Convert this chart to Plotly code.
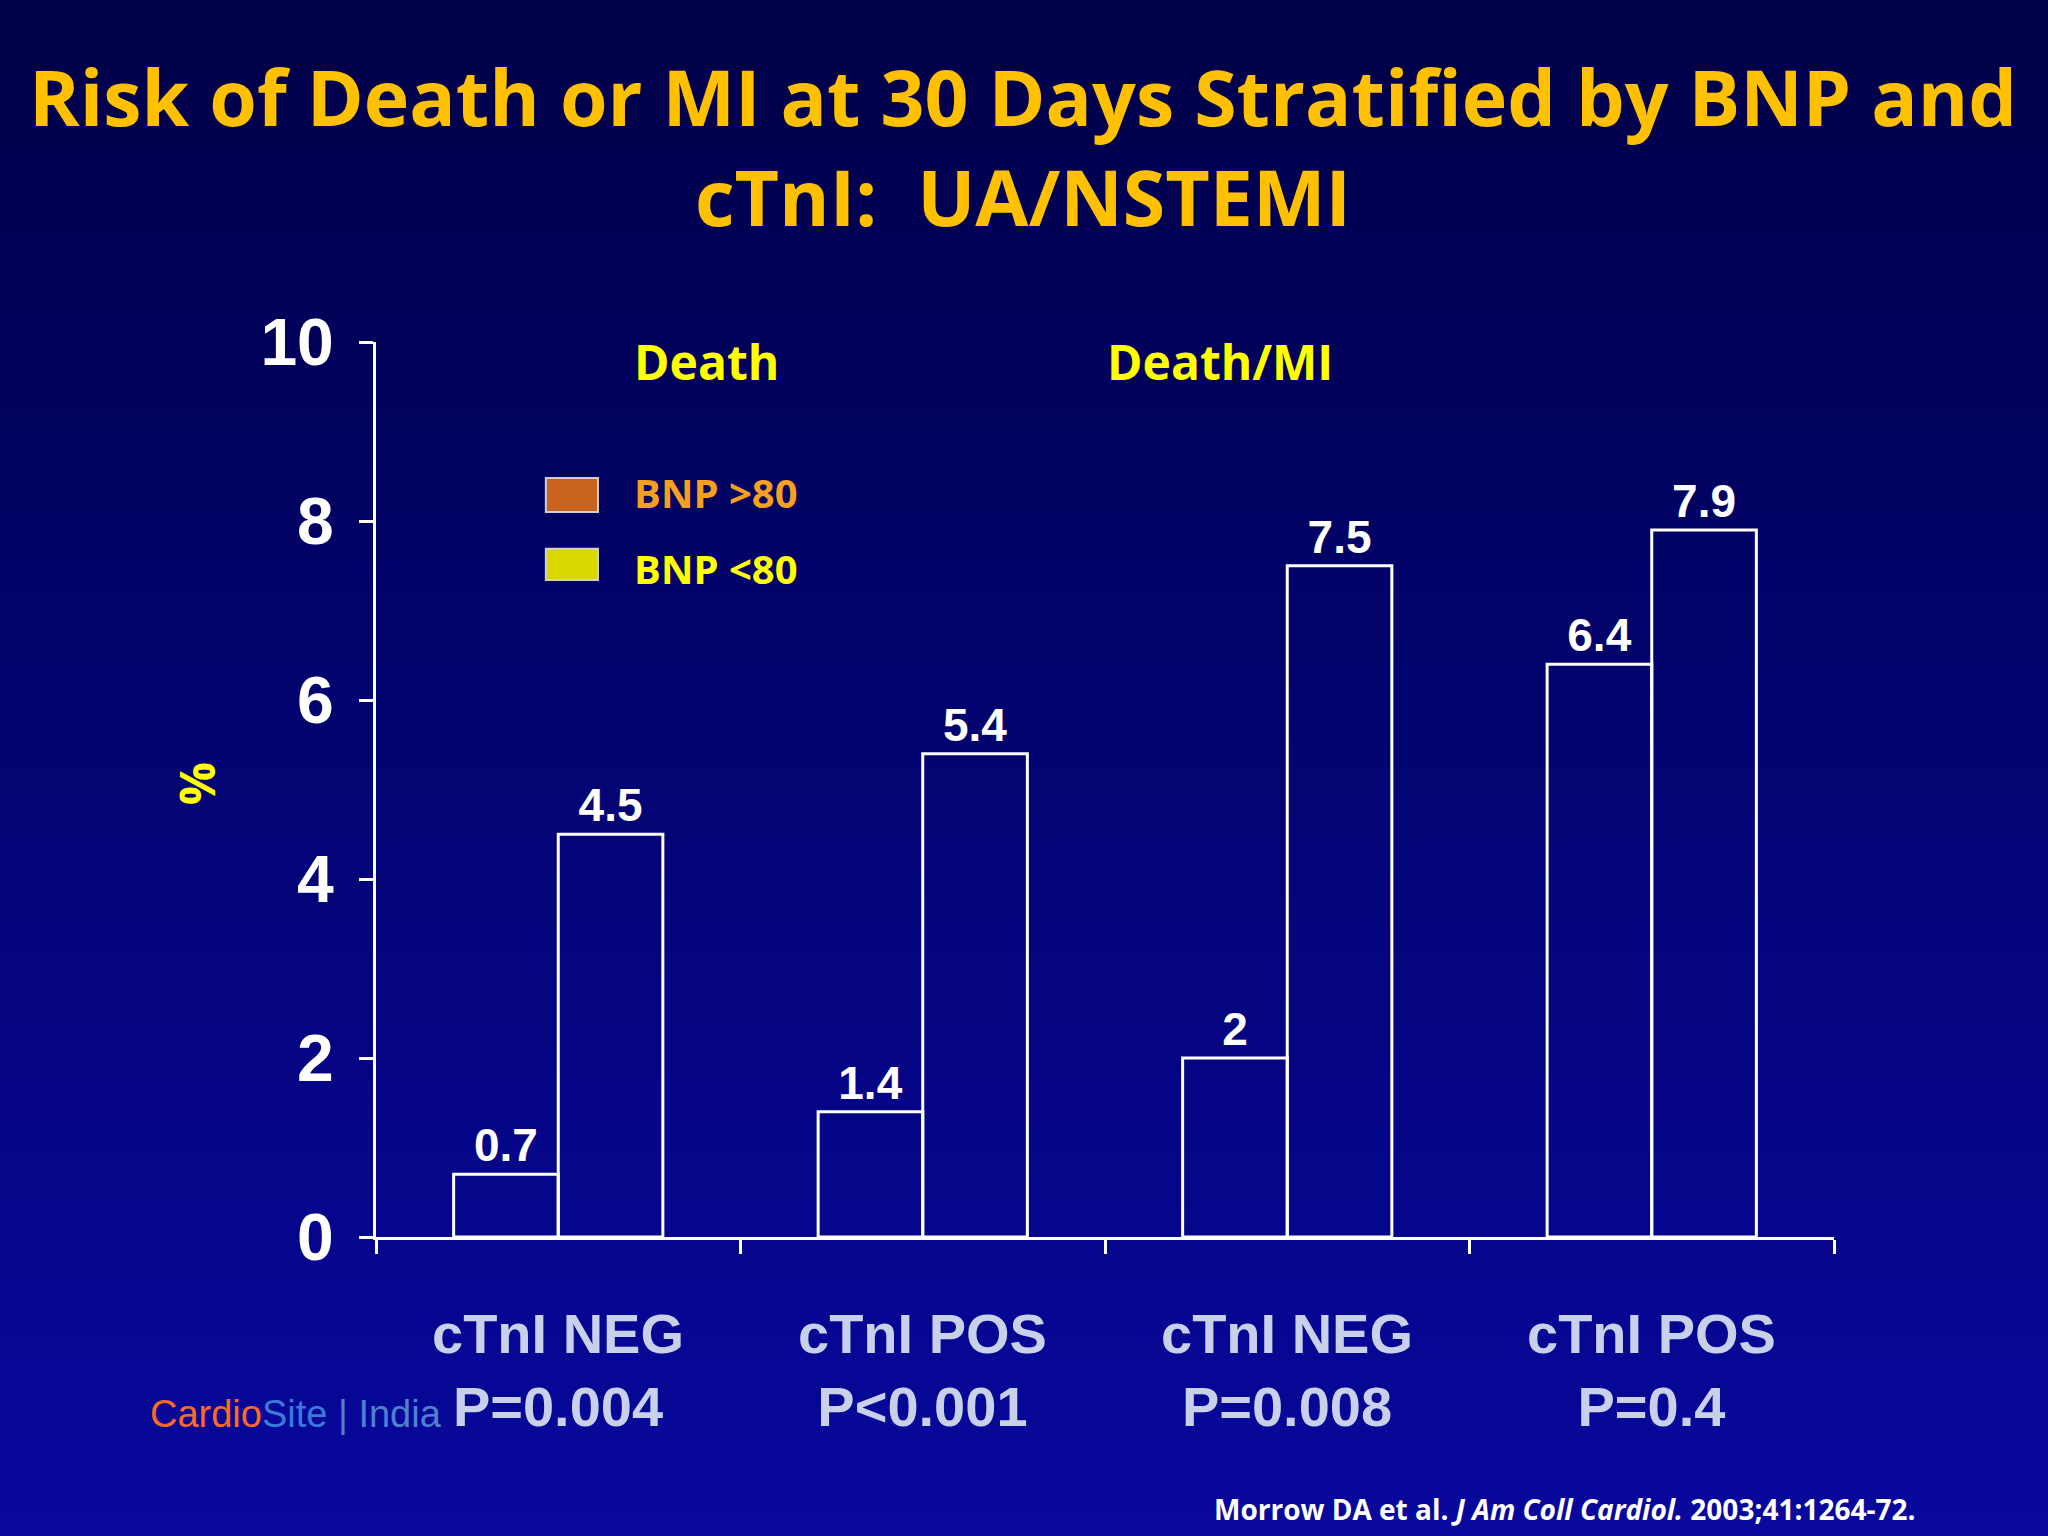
import plotly.graph_objects as go

groups = ["cTnI NEG", "cTnI POS", "cTnI NEG", "cTnI POS"]
p_values = ["P=0.004", "P<0.001", "P=0.008", "P=0.4"]
bnp_low = [0.7, 1.4, 2.0, 6.4]
bnp_high = [4.5, 5.4, 7.5, 7.9]
low_labels = ["0.7", "1.4", "2", "6.4"]
high_labels = ["4.5", "5.4", "7.5", "7.9"]
y_ticks = [0, 2, 4, 6, 8, 10]

W, H = 2048, 1536
L, R, T, B = 376, 214, 342, 299
narrow = "Liberation Sans Narrow, Arial Narrow, Liberation Sans, sans-serif"
sans = "Open Sans, Noto Sans, sans-serif"
x = list(range(len(groups)))

fig = go.Figure()
for vals, labs, off in [(bnp_low, low_labels, -1), (bnp_high, high_labels, 1)]:
    fig.add_trace(go.Bar(
        x=x, y=vals, width=0.287, offset=-0.287 if off < 0 else 0,
        marker=dict(color="rgba(0,0,0,0)", line=dict(color="white", width=3)),
        text=[f"<b>{t}</b>" for t in labs], textposition="outside", cliponaxis=False,
        textfont=dict(family=narrow, size=46, color="white"),
        showlegend=False,
    ))

# gradient background bands
shapes = []
n = 60
for i in range(n):
    f = i / (n - 1)
    r, g, b = int(0 + 8 * f), int(0 + 8 * f), int(72 + 86 * f)
    y0 = 1 + T / (H - T - B) - (i / n) * H / (H - T - B)
    y1 = y0 - H / (H - T - B) / n - 0.002
    shapes.append(dict(type="rect", xref="paper", yref="paper", x0=-0.6, x1=1.6,
                       y0=y1, y1=y0, fillcolor=f"rgb({r},{g},{b})",
                       line=dict(width=0), layer="below"))

# legend swatches
shapes.append(dict(type="rect", xref="x", yref="y", x0=-0.034, x1=0.109, y0=8.10, y1=8.48,
                   fillcolor="#c8641e", line=dict(color="#d0d0d0", width=2)))
shapes.append(dict(type="rect", xref="x", yref="y", x0=-0.034, x1=0.109, y0=7.34, y1=7.69,
                   fillcolor="#d8d800", line=dict(color="#d0d0d0", width=2)))

ann = [
    dict(text="<b>Risk of Death or MI at 30 Days Stratified by BNP and<br>cTnI:  UA/NSTEMI</b>",
         xref="paper", yref="paper", x=0.444, y=1 + (T - 146) / 895, xanchor="center", yanchor="middle",
         showarrow=False, font=dict(family=sans, size=77, color="#ffc000")),
    dict(text="<b>BNP >80</b>", x=0.203, y=8.32, xref="x", yref="y", xanchor="left",
         showarrow=False, font=dict(family=sans, size=40, color="#f5a020")),
    dict(text="<b>BNP <80</b>", x=0.203, y=7.47, xref="x", yref="y", xanchor="left",
         showarrow=False, font=dict(family=sans, size=40, color="#ffff00")),
    dict(text="<b>Death</b>", x=0.407, y=9.78, xref="x", yref="y",
         showarrow=False, font=dict(family=sans, size=48, color="#ffff00")),
    dict(text="<b>Death/MI</b>", x=1.815, y=9.78, xref="x", yref="y",
         showarrow=False, font=dict(family=sans, size=48, color="#ffff00")),
    dict(text="<b>%</b>", xref="paper", yref="paper", x=-0.147, y=(1237 - 784) / 895, textangle=-90,
         showarrow=False, font=dict(family=sans, size=48, color="#ffff00")),
    dict(text="<b>Morrow DA et al. <i>J Am Coll Cardiol.</i> 2003;41:1264-72.</b>",
         xref="paper", yref="paper", x=(1917 - L) / 1458, y=(1237 - 1530) / 895,
         xanchor="right", showarrow=False, font=dict(family=sans, size=28, color="white")),
    dict(text="<span style='color:#ff6a20'>Cardio</span><span style='color:#3a7ad8'>Site</span>"
              "<span style='color:#5080d0'> | India</span>",
         xref="paper", yref="paper", x=(148 - L) / 1458, y=(1237 - 1437) / 895,
         xanchor="left", showarrow=False, font=dict(family=narrow, size=38)),
]
for i, (gname, pv) in enumerate(zip(groups, p_values)):
    ann.append(dict(text=f"<b>{gname}</b><br><b>{pv}</b>", x=i, xref="x", yref="paper",
                    y=(1237 - 1440) / 895, showarrow=False, align="center",
                    font=dict(family=narrow, size=56, color="#c8d0ea")))

fig.update_layout(
    width=W, height=H, margin=dict(l=L, r=R, t=T, b=B),
    paper_bgcolor="#00004a", plot_bgcolor="rgba(0,0,0,0)",
    bargap=0.427, shapes=shapes, annotations=ann,
    xaxis=dict(range=[-0.5, 3.5], tickvals=[-0.5, 0.5, 1.5, 2.5, 3.5], showticklabels=False,
               ticks="outside", ticklen=14, tickwidth=3, tickcolor="white",
               showline=True, linecolor="white", linewidth=3, showgrid=False, zeroline=False),
    yaxis=dict(range=[0, 10], tickvals=y_ticks, ticks="outside", ticklen=14, tickwidth=3,
               tickcolor="white", showline=True, linecolor="white", linewidth=3,
               showgrid=False, zeroline=False, ticklabelstandoff=12,
               tickfont=dict(family=narrow, size=66, color="white", weight="bold")),
)
fig.write_html("out.html", config={"displayModeBar": False},
               post_script="document.body.style.margin='0';")
